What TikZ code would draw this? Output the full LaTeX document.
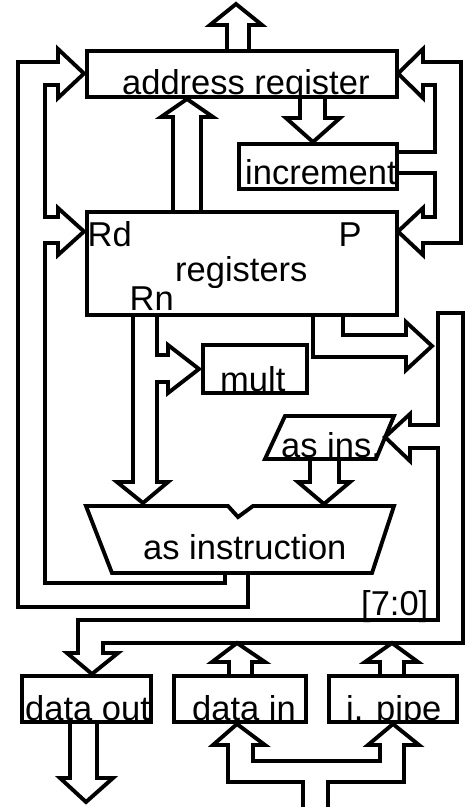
\documentclass[tikz,border=0pt]{standalone}
\usepackage{fontspec}
\setmainfont{Liberation Sans}
\newcommand\lbfont{\fontsize{34.5}{36}\selectfont}
\tikzset{
  bus/.style={line width=3.9pt, line join=miter},
  box/.style={draw, line width=3.9pt, inner sep=0pt, outer sep=0pt},
  lbl/.style={inner sep=0pt, anchor=base west, font=\lbfont}
}
\begin{document}
\begin{tikzpicture}[x=1pt,y=-1pt]
\useasboundingbox (0,0) rectangle (467,807);

% ---------- text (clipped to their boxes) ----------
\begin{scope}\clip (87,51) rectangle (397,97);
  \node[lbl] (tareg) at (122,94) {address register};\end{scope}
\begin{scope}\clip (239,144) rectangle (397,189);
  \node[lbl] (tincr) at (245,184) {increment};\end{scope}
\begin{scope}\clip (87,212) rectangle (397,287);
  \node[lbl] (tregs) at (175,281) {registers};\end{scope}
\node[lbl] (trd) at (87.5,246) {Rd};
\node[lbl] (tp) at (338.5,246) {P};
\node[lbl] (trn) at (129.5,310) {Rn};
\begin{scope}\clip (203,345) rectangle (307,393);
  \node[lbl] (tmult) at (220,391) {mult};\end{scope}
\begin{scope}\clip (285,416) -- (394,416) -- (376,459) -- (265,459) -- cycle;
  \node[lbl] (tasins) at (281,457) {as ins.};\end{scope}
\node[lbl] (talu) at (143,559) {as instruction};
\node[lbl] (tbits) at (361,615) {[7:0]};
\begin{scope}\clip (22,676) rectangle (151,722);
  \node[lbl] (tdout) at (25,720) {data out};\end{scope}
\begin{scope}\clip (174,676) rectangle (306,722);
  \node[lbl] (tdin) at (192,720) {data in};\end{scope}
\begin{scope}\clip (329,676) rectangle (457,722);
  \node[lbl] (tipipe) at (346,720) {i. pipe};\end{scope}

% ---------- boxes ----------
\node[box, minimum width=310pt, minimum height=46pt] (areg) at (242,74) {};
\node[box, minimum width=158pt, minimum height=45pt] (incr) at (318,166.5) {};
\node[box, minimum width=310pt, minimum height=103pt] (regs) at (242,263.5) {};
\node[box, minimum width=104pt, minimum height=48pt] (mult) at (255,369) {};
\node[box, minimum width=129pt, minimum height=46pt] (dout) at (86.5,699) {};
\node[box, minimum width=132pt, minimum height=46pt] (din) at (240,699) {};
\node[box, minimum width=128pt, minimum height=46pt] (ipipe) at (393,699) {};
% as ins (parallelogram)
\draw[bus] (285,416) -- (394,416) -- (376,459) -- (265,459) -- cycle;
% ALU
\draw[bus] (86,506) -- (228,506) -- (238,517) -- (253,506) -- (394,506)
  -- (372,573) -- (112,573) -- cycle;

% ---------- buses ----------
% address out (top)
\draw[bus] (227,51) -- (227,25) -- (210,25) -- (236,4) -- (262,25) -- (249,25) -- (249,51);
% address register -> increment
\draw[bus] (300,97) -- (300,118) -- (286,118) -- (313,142) -- (340,118) -- (325,118) -- (325,97);
% registers -> address register
\draw[bus] (173,212) -- (173,117) -- (161,117) -- (187,99) -- (213,117) -- (201,117) -- (201,212);
% ALU result -> address register and Rd
\draw[bus] (248,573) -- (248,607) -- (18,607) -- (18,62) -- (58,62) -- (58,49) -- (84,73.5)
  -- (58,98) -- (58,85) -- (45,85) -- (45,217) -- (58,217) -- (58,208) -- (84,231.5)
  -- (58,255) -- (58,243) -- (45,243) -- (45,583) -- (225,583) -- (225,573);
% increment -> address register and P
\draw[bus] (397,152) -- (435,152) -- (435,85) -- (423,85) -- (423,98) -- (398,73.5)
  -- (423,49) -- (423,62) -- (461,62) -- (461,243) -- (423,243) -- (423,255)
  -- (398,231.5) -- (423,208) -- (423,217) -- (435,217) -- (435,173) -- (397,173);
% Rn -> mult and ALU
\draw[bus] (133,315) -- (133,482) -- (117,482) -- (143,503) -- (168,482) -- (157,482)
  -- (157,382) -- (168,382) -- (168,393) -- (199,369) -- (168,345) -- (168,355)
  -- (157,355) -- (157,315);
% registers -> right
\draw[bus] (313,315) -- (313,357) -- (406,357) -- (406,370) -- (432,346) -- (406,322)
  -- (406,335) -- (343,335) -- (343,315);
% right bus -> as ins and data out
\draw[bus] (438,425) -- (438,313) -- (463,313) -- (463,643) -- (103,643) -- (103,653)
  -- (118,653) -- (92,674) -- (67,653) -- (78,653) -- (78,620) -- (438,620)
  -- (438,448) -- (410,448) -- (410,461) -- (385,437) -- (410,414) -- (410,425) -- cycle;
% data in / i. pipe -> bus
\draw[bus] (229,676) -- (229,662) -- (212,662) -- (237,643) -- (265,662) -- (252,662) -- (252,676);
\draw[bus] (380,676) -- (380,662) -- (365,662) -- (392,643) -- (418,662) -- (404,662) -- (404,676);
% as ins -> ALU
\draw[bus] (310,459) -- (310,482) -- (298,482) -- (324,504) -- (350,482) -- (339,482) -- (339,459);
% data out -> down
\draw[bus] (70,722) -- (70,778) -- (60,778) -- (86,802) -- (113,778) -- (97,778) -- (97,722);
% memory -> data in and i. pipe
\draw[bus] (303,807) -- (303,782) -- (228,782) -- (228,745) -- (213,745) -- (237,724)
  -- (265,745) -- (253,745) -- (253,761) -- (380,761) -- (380,745) -- (368,745)
  -- (393,724) -- (419,745) -- (404,745) -- (404,782) -- (328,782) -- (328,807);
\end{tikzpicture}
\end{document}
